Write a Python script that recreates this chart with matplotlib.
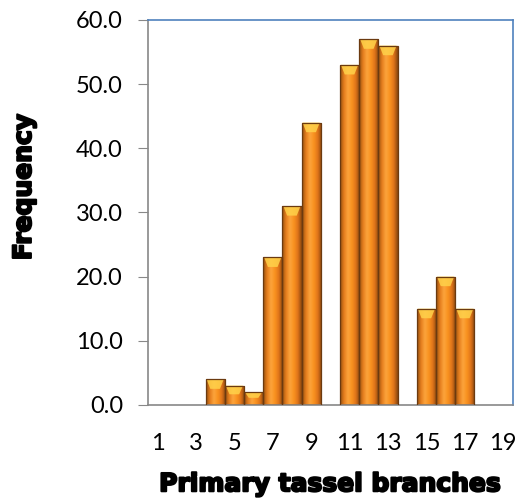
import numpy as np
import matplotlib
matplotlib.use("Agg")
import matplotlib.pyplot as plt
import matplotlib.patheffects as pe
from matplotlib.patches import Rectangle, Polygon
from matplotlib.colors import LinearSegmentedColormap

# Frequency of primary tassel branch counts
branches = list(range(1, 20))
frequency = [0, 0, 0, 4, 3, 2, 23, 31, 44, 0, 53, 57, 56, 0, 15, 20, 15, 0, 0]
x_ticks = [1, 3, 5, 7, 9, 11, 13, 15, 17, 19]
y_ticks = [0, 10, 20, 30, 40, 50, 60]

fig = plt.figure(figsize=(5.19, 4.98), dpi=100)
ax = fig.add_axes([0.285, 0.187, 0.703, 0.773])

# horizontal cylinder shading for each bar
shade = LinearSegmentedColormap.from_list(
    "cyl", ["#94500f", "#e67e1e", "#fca43c", "#f9921f", "#e0741a", "#87460e"])
grad = np.linspace(0, 1, 64).reshape(1, -1)

for xb, h in zip(branches, frequency):
    if h <= 0:
        continue
    left, right = xb - 0.5, xb + 0.5
    im = ax.imshow(grad, cmap=shade, extent=[left, right, 0, h],
                   aspect="auto", origin="lower", zorder=2, interpolation="bicubic")
    rect = Rectangle((left, 0), 1.0, h, facecolor="none",
                     edgecolor="#6b3a10", linewidth=0.9, zorder=4)
    ax.add_patch(rect)
    im.set_clip_path(rect)
    # bevelled highlight on the bar top
    b = min(1.5, h * 0.45)
    cap = Polygon([(left + 0.05, h), (right - 0.05, h), (right - 0.25, h - b),
                   (left + 0.25, h - b)], closed=True,
                  facecolor="#ffd24a", edgecolor="none", alpha=0.85, zorder=3)
    ax.add_patch(cap)

ax.set_xlim(0.5, 19.5)
ax.set_ylim(0, 60)
ax.set_xticks(x_ticks)
ax.set_yticks(y_ticks)
ax.set_yticklabels([f"{v:.1f}" for v in y_ticks])
ax.tick_params(axis="x", length=0, pad=20, labelsize=17)
ax.tick_params(axis="y", length=7, direction="out", color="#888888",
               labelsize=17, pad=11)
for lab in ax.get_xticklabels() + ax.get_yticklabels():
    lab.set_fontfamily(["Lato", "DejaVu Sans"])

ax.spines["left"].set_color("#888888")
ax.spines["bottom"].set_color("#888888")
ax.spines["top"].set_color("#4f81bd")
ax.spines["right"].set_color("#4f81bd")
for s in ax.spines.values():
    s.set_linewidth(1.2)

heavy = [pe.withStroke(linewidth=1.5, foreground="black")]
ax.set_xlabel("Primary tassel branches", fontsize=18, fontweight="bold",
              family="DejaVu Sans", path_effects=heavy)
ax.set_ylabel("Frequency", fontsize=18, fontweight="bold",
              family="DejaVu Sans", path_effects=heavy)
ax.xaxis.set_label_coords(0.5, -0.175)
ax.yaxis.set_label_coords(-0.307, 0.566)

fig.savefig("out.png", dpi=100)
